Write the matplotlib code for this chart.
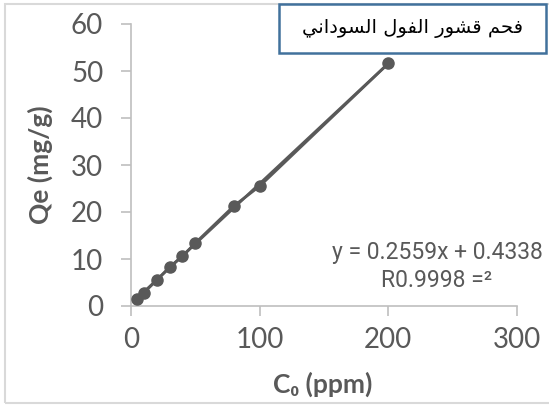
import matplotlib.pyplot as plt
import numpy as np
from matplotlib.patches import Rectangle

# initial concentration (ppm) vs adsorbed amount (mg/g)
c0 = [5, 10, 20, 30, 40, 50, 80, 100, 200]
qe = [1.5, 2.8, 5.5, 8.3, 10.6, 13.4, 21.3, 25.5, 51.6]

slope, intercept = 0.2559, 0.4338
eq_lines = ["y = 0.2559x + 0.4338", "R0.9998 =\u00b2"]

# title in Arabic presentation forms, reversed for left-to-right layout
title_forms = [0xFED3, 0xFEA4, 0xFEE2, 0x20,
               0xFED7, 0xFEB8, 0xFEEE, 0xFEAD, 0x20,
               0xFE8D, 0xFEDF, 0xFED4, 0xFEEE, 0xFEDD, 0x20,
               0xFE8D, 0xFEDF, 0xFEB4, 0xFEEE, 0xFEA9, 0xFE8D, 0xFEE7, 0xFEF2]
title = ''.join(chr(c) for c in reversed(title_forms))

xticks = [0, 100, 200, 300]
yticks = [0, 10, 20, 30, 40, 50, 60]

grey = '#595959'
axis_grey = '#BFBFBF'

fig = plt.figure(figsize=(5.49, 4.08), dpi=100)
ax = fig.add_axes([131/549, 1 - 306/408, 386/549, 282/408])

# outer chart frame
fig.patches.append(Rectangle((5/549, 1 - 403/408), 1, 399/408, transform=fig.transFigure,
                             fill=False, edgecolor='#D9D9D9', linewidth=1.5))

ax.plot(c0, qe, '-o', color=grey, linewidth=2, markersize=8, zorder=3)
xs = np.array([min(c0), max(c0)])
ax.plot(xs, slope * xs + intercept, color=grey, linewidth=2, zorder=2)

ax.set_xlim(0, 300)
ax.set_ylim(0, 60)
ax.set_xticks(xticks)
ax.set_yticks(yticks)
for s in ['top', 'right']:
    ax.spines[s].set_visible(False)
for s in ['left', 'bottom']:
    ax.spines[s].set_color(axis_grey)
    ax.spines[s].set_linewidth(1.2)
ax.tick_params(axis='both', direction='out', length=7, width=1.2, color=axis_grey,
               labelcolor=grey, labelsize=20)
ax.tick_params(axis='y', pad=13)
ax.tick_params(axis='x', pad=8)
for lab in ax.get_xticklabels() + ax.get_yticklabels():
    lab.set_family('Lato')

ax.set_xlabel('C\u2080 (ppm)', fontsize=19, fontweight='bold', color=grey,
              family=['Lato', 'DejaVu Sans'])
ax.set_ylabel('Qe (mg/g)', fontsize=19, fontweight='bold', color=grey, family='Lato')
ax.xaxis.set_label_coords(0.497, -0.232)
ax.yaxis.set_label_coords(-0.202, 0.5)

ax.text(0.795, 0.191, eq_lines[0], transform=ax.transAxes, ha='center', va='center',
        fontsize=16.5, color=grey, family='Roboto')
ax.text(0.792, 0.092, eq_lines[1], transform=ax.transAxes, ha='center', va='center',
        fontsize=16.5, color=grey, family='Roboto')

# title box
fig.text(412/549, 1 - 29/408, title, ha='center', va='center', fontsize=14,
         color='black', family='DejaVu Sans')
fig.patches.append(Rectangle((279/549, 1 - 53/408), 267/549, 49/408, transform=fig.transFigure,
                             facecolor='white', edgecolor='#41719C', linewidth=1.8, zorder=1))

fig.savefig('out.png', dpi=100)
